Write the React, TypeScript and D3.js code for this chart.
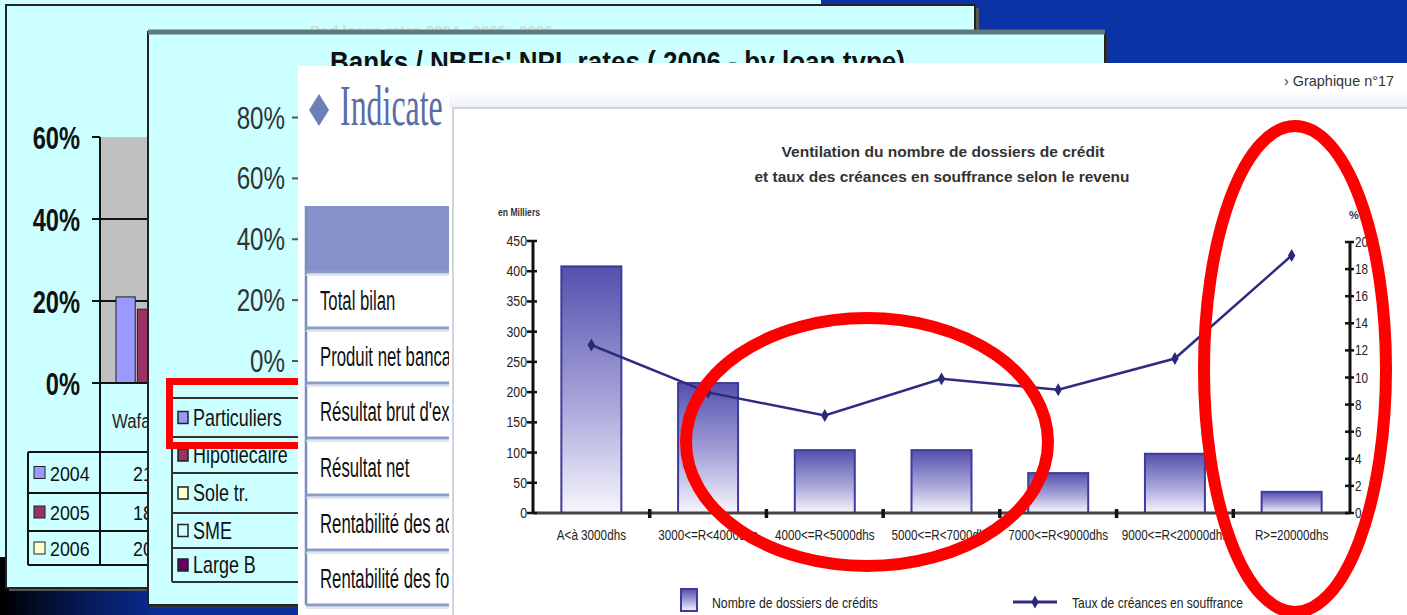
import React from 'react';
import * as d3 from 'd3';

// main chart (front page)
const categories = ['A<à 3000dhs', '3000<=R<4000dhs', '4000<=R<5000dhs', '5000<=R<7000dhs', '7000<=R<9000dhs', '9000<=R<20000dhs', 'R>=20000dhs'];
const dossiers = [408, 215, 104, 104, 66, 98, 35];
const tauxSouffrance = [12.4, 8.9, 7.2, 9.9, 9.1, 11.4, 19.0];
const dossierTicks = [0, 50, 100, 150, 200, 250, 300, 350, 400, 450];
const tauxTicks = [0, 2, 4, 6, 8, 10, 12, 14, 16, 18, 20];

// back slide 1
const backYears = ['2004', '2005', '2006'];
const backValues = [21, 18, 20];
const backColors = ['#9999ff', '#993366', '#ffffcc'];
const backTicks = [0, 20, 40, 60];

// back slide 2
const loanTicks = [0, 20, 40, 60, 80];
const loanTypes = ['Particuliers', 'Hipotiecaire', 'Sole tr.', 'SME', 'Large B'];
const loanColors = ['#9999ff', '#993366', '#ffffcc', '#ccffff', '#660066'];
const loanRows = [398, 437, 473, 513, 548, 582];

// back slide 3 (only the visible part of each label)
const indicators = ['Total bilan', 'Produit net banca', "Résultat brut d'ex", 'Résultat net', 'Rentabilité des ac', 'Rentabilité des fo'];
const indicatorRows = [272, 328, 383, 438, 495, 550, 605];

const SANS = "'Liberation Sans', Arial, sans-serif";
const SERIF = "'Liberation Serif', 'Times New Roman', serif";

const Txt = ({ x, y, sx = 1, size, fill = '#111', anchor = 'start', weight = 'normal', family = SANS, children, len }: any) => (
  <text
    transform={`translate(${x},${y}) scale(${sx},1)`}
    fontSize={size}
    fill={fill}
    textAnchor={anchor}
    fontWeight={weight}
    fontFamily={family}
    textLength={len}
    lengthAdjust={len ? 'spacingAndGlyphs' : undefined}
  >
    {children}
  </text>
);

export default function App() {
  const W = 1407, H = 615;

  // scales for the main chart
  const x = d3.scaleBand().domain(categories).range([533, 1350]).paddingInner(0.486).paddingOuter(0.243);
  const yL = d3.scaleLinear().domain([0, 450]).range([513, 241]);
  const yR = d3.scaleLinear().domain([0, 20]).range([513, 242]);
  const step = x.step();
  const cx = (c: string) => (x(c) as number) + x.bandwidth() / 2;
  const line = d3.line<number>().x((_, i) => cx(categories[i])).y(d => yR(d));
  const diamond = d3.symbol().type(d3.symbolDiamond).size(48)()!;

  // back slide scales
  const y1 = d3.scaleLinear().domain([0, 60]).range([383, 137]);
  const x1 = d3.scaleBand().domain(backYears).range([116, 178]).paddingInner(0.1);
  const y2 = d3.scaleLinear().domain([0, 80]).range([361, 117.5]);

  return (
    <div style={{ position: 'absolute', left: 0, top: 0 }}>
      <svg width={W} height={H} style={{ display: 'block' }}>
        <defs>
          <linearGradient id="barGrad" x1="0" y1="0" x2="0" y2="1">
            <stop offset="0" stopColor="#5450ad" />
            <stop offset="0.55" stopColor="#a7a4d9" />
            <stop offset="1" stopColor="#f7f6fd" />
          </linearGradient>
          <linearGradient id="bgGrad" x1="0" y1="0" x2="1" y2="0">
            <stop offset="0" stopColor="#000000" />
            <stop offset="0.3" stopColor="#061a5c" />
            <stop offset="0.55" stopColor="#0a2e9a" />
          </linearGradient>
          <linearGradient id="hdrGrad" x1="0" y1="0" x2="0" y2="1">
            <stop offset="0" stopColor="#ffffff" />
            <stop offset="1" stopColor="#eceff4" />
          </linearGradient>
        </defs>

        {/* background */}
        <rect x={0} y={0} width={W} height={H} fill="#0b33a5" />
        <rect x={0} y={0} width={821} height={557} fill="#ccffff" />
        <rect x={0} y={557} width={300} height={58} fill="url(#bgGrad)" />

        {/* slide 1 */}
        <rect x={9} y={8} width={970} height={583} fill="#555" />
        <rect x={6} y={5} width={969} height={583} fill="#ccffff" stroke="#222" strokeWidth={2} />
        <Txt x={310} y={36} size={15} fill="#d2dcdc" weight="bold">Bad loans rates 2004 - 2005 - 2006</Txt>
        <rect x={100} y={y1(60)} width={220} height={y1(0) - y1(60)} fill="#c0c0c0" />
        {backTicks.map(t => (
          <g key={t}>
            <line x1={92} x2={t === 0 || t === 60 ? 100 : 320} y1={y1(t)} y2={y1(t)} stroke="#111" strokeWidth={2} />
            <Txt x={80} y={y1(t) + 12} size={32} sx={0.74} anchor="end" weight="bold" fill="#111">{t}%</Txt>
          </g>
        ))}
        {backYears.map((yr, i) => (
          <rect key={yr} x={x1(yr)} y={y1(backValues[i])} width={x1.bandwidth()} height={y1(0) - y1(backValues[i])} fill={backColors[i]} stroke="#222" strokeWidth={1} />
        ))}
        <line x1={92} x2={320} y1={y1(0)} y2={y1(0)} stroke="#111" strokeWidth={2} />
        <line x1={100} x2={100} y1={y1(60)} y2={565} stroke="#111" strokeWidth={2} />
        <Txt x={112} y={428} size={21} sx={0.8} fill="#222">Wafa</Txt>
        {[452, 493, 531, 565].map(v => <line key={v} x1={28} x2={320} y1={v} y2={v} stroke="#111" strokeWidth={2} />)}
        <line x1={28} x2={28} y1={452} y2={565} stroke="#111" strokeWidth={2} />
        {backYears.map((yr, i) => {
          const top = [452, 493, 531][i];
          const bot = [493, 531, 565][i];
          const mid = (top + bot) / 2;
          return (
            <g key={yr}>
              <rect x={34} y={mid - 6} width={11} height={12} fill={backColors[i]} stroke="#222" strokeWidth={1} />
              <Txt x={50} y={mid + 8} size={21} sx={0.85} fill="#111">{yr}</Txt>
              <Txt x={143} y={mid + 8} size={21} sx={0.85} anchor="middle" fill="#111">{backValues[i]}</Txt>
            </g>
          );
        })}

        {/* slide 2 */}
        <rect x={151} y={35} width={957} height={573} fill="#333" />
        <rect x={148} y={32} width={957} height={573} fill="#ccffff" stroke="#222" strokeWidth={2} />
        <line x1={148} x2={1105} y1={32} y2={32} stroke="#5f7a7a" strokeWidth={5} />
        <Txt x={330} y={72} size={29} weight="bold" fill="#111" len={575}>Banks / NBFIs' NPL rates ( 2006 - by loan type)</Txt>
        {loanTicks.map(t => (
          <g key={t}>
            <Txt x={285} y={y2(t) + 11} size={31} sx={0.78} anchor="end" fill="#333">{t}%</Txt>
            <line x1={292} x2={300} y1={y2(t)} y2={y2(t)} stroke="#555" strokeWidth={2} />
          </g>
        ))}
        {loanRows.map(v => <line key={v} x1={172} x2={320} y1={v} y2={v} stroke="#333" strokeWidth={2} />)}
        <line x1={172} x2={172} y1={loanRows[0]} y2={loanRows[5]} stroke="#333" strokeWidth={2} />
        {loanTypes.map((lt, i) => {
          const mid = (loanRows[i] + loanRows[i + 1]) / 2;
          return (
            <g key={lt}>
              <rect x={178} y={mid - 6} width={10} height={12} fill={loanColors[i]} stroke="#222" strokeWidth={1.5} />
              <Txt x={193} y={mid + 8} size={23} sx={0.78} fill="#111">{lt}</Txt>
            </g>
          );
        })}
        <rect x={169.5} y={381.5} width={200} height={64} fill="none" stroke="#ff0000" strokeWidth={7} />

        {/* slide 3 */}
        <rect x={298} y={66} width={200} height={560} fill="#ffffff" />
        <path d="M319,94 L329,110 L319,126 L309,110 Z" fill="#6d7fb7" />
        <Txt x={340} y={125} size={56} sx={0.57} family={SERIF} fill="#5a6ca8">Indicate</Txt>
        <rect x={306} y={206} width={190} height={66} fill="#8592cc" />
        <line x1={306} x2={306} y1={206} y2={605} stroke="#7b8cc0" strokeWidth={2.5} />
        {indicatorRows.map(v => (
          <g key={v}>
            <line x1={306} x2={496} y1={v} y2={v} stroke="#8a9cc8" strokeWidth={3} />
            <line x1={306} x2={496} y1={v + 3} y2={v + 3} stroke="#d4dcee" strokeWidth={1.5} />
          </g>
        ))}
        {indicators.map((t, i) => (
          <Txt key={t} x={320} y={(indicatorRows[i] + indicatorRows[i + 1]) / 2 + 10} size={27} sx={0.62} fill="#111">{t}</Txt>
        ))}

        {/* main page */}
        <rect x={449} y={63} width={W - 449} height={H - 63} fill="#ffffff" />
        <rect x={449} y={92} width={W - 449} height={16} fill="url(#hdrGrad)" />
        <Txt x={1284} y={86} size={15} fill="#333" len={110}>› Graphique n°17</Txt>
        <rect x={453} y={108} width={1000} height={600} fill="#ffffff" stroke="#cfd4dd" strokeWidth={2} />

        <Txt x={943} y={157} size={15} weight="bold" anchor="middle" fill="#333" len={323}>Ventilation du nombre de dossiers de crédit</Txt>
        <Txt x={942} y={182} size={15} weight="bold" anchor="middle" fill="#333" len={375}>et taux des créances en souffrance selon le revenu</Txt>
        <Txt x={498} y={216} size={10} weight="bold" fill="#333" len={42}>en Milliers</Txt>
        <Txt x={1349} y={219} size={11} weight="bold" fill="#333">%</Txt>

        {/* bars */}
        {categories.map((c, i) => (
          <rect key={c} x={x(c)} y={yL(dossiers[i])} width={x.bandwidth()} height={yL(0) - yL(dossiers[i])} fill="url(#barGrad)" stroke="#3f3b9c" strokeWidth={2} />
        ))}

        {/* x axis */}
        <line x1={533} x2={1350} y1={yL(0)} y2={yL(0)} stroke="#444" strokeWidth={3} />
        {categories.slice(1).map(c => (
          <line key={c} x1={(x(c) as number) - step * 0.243} x2={(x(c) as number) - step * 0.243} y1={yL(0) - 4} y2={yL(0) + 5} stroke="#111" strokeWidth={3.5} />
        ))}
        {categories.map(c => (
          <Txt key={c} x={cx(c)} y={540} size={15} sx={0.78} anchor="middle" fill="#222">{c}</Txt>
        ))}

        {/* left axis */}
        <line x1={533} x2={533} y1={yL(450)} y2={yL(0)} stroke="#111" strokeWidth={3} />
        {dossierTicks.map(t => (
          <g key={t}>
            <line x1={527} x2={537} y1={yL(t)} y2={yL(t)} stroke="#111" strokeWidth={2.5} />
            <Txt x={527} y={yL(t) + 5} size={15} sx={0.82} anchor="end" fill="#222">{t}</Txt>
          </g>
        ))}

        {/* right axis */}
        <line x1={1350} x2={1350} y1={yR(20)} y2={yR(0)} stroke="#111" strokeWidth={3} />
        {tauxTicks.map(t => (
          <g key={t}>
            <line x1={1345} x2={1354} y1={yR(t)} y2={yR(t)} stroke="#111" strokeWidth={2.5} />
            <Txt x={1355} y={yR(t) + 5} size={15} sx={0.78} fill="#222">{t}</Txt>
          </g>
        ))}

        {/* line series */}
        <path d={line(tauxSouffrance)!} fill="none" stroke="#2e2c80" strokeWidth={2.5} />
        {tauxSouffrance.map((v, i) => (
          <path key={i} d={diamond} transform={`translate(${cx(categories[i])},${yR(v)})`} fill="#2a2878" />
        ))}

        {/* legend */}
        <rect x={681} y={589} width={16} height={22} fill="url(#barGrad)" stroke="#3f3b9c" strokeWidth={2} />
        <Txt x={712} y={608} size={15} fill="#222" len={166}>Nombre de dossiers de crédits</Txt>
        <line x1={1013} x2={1057} y1={602} y2={602} stroke="#2e2c80" strokeWidth={3} />
        <path d={diamond} transform="translate(1035,602)" fill="#2a2878" />
        <Txt x={1072} y={608} size={15} fill="#222" len={171}>Taux de créances en souffrance</Txt>

        {/* red highlight ellipses */}
        <ellipse cx={867} cy={442} rx={181} ry={124} fill="none" stroke="#ff0000" strokeWidth={12} />
        <ellipse cx={1295} cy={369} rx={91} ry={243} fill="none" stroke="#ff0000" strokeWidth={12} />
      </svg>
    </div>
  );
}
